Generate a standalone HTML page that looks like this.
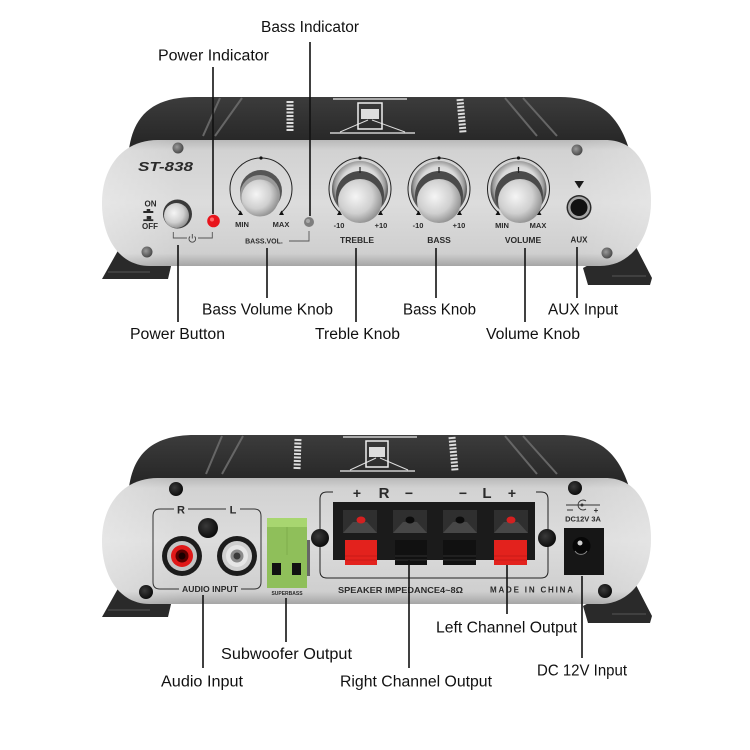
<!DOCTYPE html>
<html><head><meta charset="utf-8">
<style>
html,body{margin:0;padding:0;background:#fff;}
svg{display:block;}
.lb{font-family:"Liberation Sans",sans-serif;font-size:15.5px;fill:#111;}
.pl{font-family:"Liberation Sans",sans-serif;font-weight:bold;fill:#2a2a2a;}
</style></head><body>
<svg width="750" height="750" viewBox="0 0 750 750" xmlns="http://www.w3.org/2000/svg">
<defs>
<linearGradient id="pg" x1="0" y1="0" x2="0" y2="1">
 <stop offset="0" stop-color="#b9b9b9"/>
 <stop offset="0.08" stop-color="#d2d2d2"/>
 <stop offset="0.5" stop-color="#dcdcdc"/>
 <stop offset="0.9" stop-color="#cfcfcf"/>
 <stop offset="1" stop-color="#a5a5a5"/>
</linearGradient>
<linearGradient id="pgh" x1="0" y1="0" x2="1" y2="0">
 <stop offset="0" stop-color="#fff" stop-opacity="0.3"/>
 <stop offset="0.15" stop-color="#fff" stop-opacity="0"/>
 <stop offset="0.85" stop-color="#fff" stop-opacity="0"/>
 <stop offset="1" stop-color="#fff" stop-opacity="0.25"/>
</linearGradient>
<linearGradient id="bg" x1="0" y1="0" x2="0" y2="1">
 <stop offset="0" stop-color="#3c3c3c"/>
 <stop offset="1" stop-color="#1f1f1f"/>
</linearGradient>
<radialGradient id="chrome" cx="0.5" cy="0.45" r="0.5">
 <stop offset="0" stop-color="#fafafa"/>
 <stop offset="0.7" stop-color="#d8d8d8"/>
 <stop offset="0.9" stop-color="#9a9a9a"/>
 <stop offset="1" stop-color="#5a5a5a"/>
</radialGradient>
<radialGradient id="cap" cx="0.4" cy="0.4" r="0.65">
 <stop offset="0" stop-color="#f5f5f5"/>
 <stop offset="0.6" stop-color="#cfcfcf"/>
 <stop offset="1" stop-color="#8c8c8c"/>
</radialGradient>
<radialGradient id="screw" cx="0.4" cy="0.4" r="0.6">
 <stop offset="0" stop-color="#9a9a9a"/>
 <stop offset="1" stop-color="#4a4a4a"/>
</radialGradient>
<radialGradient id="bscrew" cx="0.4" cy="0.4" r="0.6">
 <stop offset="0" stop-color="#3a3a3a"/>
 <stop offset="1" stop-color="#0d0d0d"/>
</radialGradient>
</defs>
<rect width="750" height="750" fill="#fff"/>

<!-- ========== TOP AMP BODY ========== -->
<g>
 <polygon points="120,247 140,247 172,262 168,279 102,279" fill="#2a2a2a"/>
 <line x1="108" y1="272" x2="150" y2="272" stroke="#555" stroke-width="1"/>
 <polygon points="583,268 622,247 636,247 652,278 650,285 588,285" fill="#2a2a2a"/>
 <line x1="612" y1="276" x2="646" y2="276" stroke="#555" stroke-width="1"/>
 <path d="M128,160 C130,118 150,97 195,97 L560,97 C602,97 622,118 632,160 Z" fill="url(#bg)"/>
 <line x1="220" y1="98" x2="203" y2="136" stroke="#666" stroke-width="2"/>
 <line x1="242" y1="98" x2="215" y2="136" stroke="#666" stroke-width="2"/>
 <line x1="505" y1="98" x2="537" y2="136" stroke="#666" stroke-width="2"/>
 <line x1="523" y1="98" x2="557" y2="136" stroke="#666" stroke-width="2"/>
 <line x1="333" y1="99" x2="407" y2="99" stroke="#eee" stroke-width="1.2"/>
 <line x1="330" y1="133" x2="415" y2="133" stroke="#eee" stroke-width="1.2"/>
 <line x1="340" y1="132" x2="368" y2="120" stroke="#ddd" stroke-width="1"/>
 <line x1="405" y1="132" x2="372" y2="120" stroke="#ddd" stroke-width="1"/>
 <rect x="358" y="103" width="24" height="26" fill="none" stroke="#eee" stroke-width="1.5"/>
 <rect x="361" y="109" width="18" height="10" fill="#ddd"/>
 <line x1="290" y1="101" x2="290" y2="132" stroke="#ddd" stroke-width="7" stroke-dasharray="2,1.5"/>
 <line x1="460" y1="99" x2="463" y2="133" stroke="#ddd" stroke-width="7" stroke-dasharray="2,1.5"/>
 <path d="M158,140 L605,140 C638,140 651,170 651,201 C651,236 632,266 600,266 L150,266 C118,266 102,236 102,203 C102,168 122,140 158,140 Z" fill="url(#pg)"/>
 <path d="M158,140 L605,140 C638,140 651,170 651,201 C651,236 632,266 600,266 L150,266 C118,266 102,236 102,203 C102,168 122,140 158,140 Z" fill="url(#pgh)"/>
</g>

<!-- ========== BOTTOM AMP BODY ========== -->
<g transform="translate(0,338)">
 <polygon points="120,247 140,247 172,262 168,279 102,279" fill="#2a2a2a"/>
 <line x1="108" y1="272" x2="150" y2="272" stroke="#555" stroke-width="1"/>
 <polygon points="583,268 622,247 636,247 652,278 650,285 588,285" fill="#2a2a2a"/>
 <line x1="612" y1="276" x2="646" y2="276" stroke="#555" stroke-width="1"/>
 <path d="M128,160 C130,118 150,97 195,97 L560,97 C602,97 622,118 632,160 Z" fill="url(#bg)"/>
 <line x1="222" y1="98" x2="206" y2="136" stroke="#666" stroke-width="2"/>
 <line x1="243" y1="98" x2="222" y2="136" stroke="#666" stroke-width="2"/>
 <line x1="505" y1="98" x2="537" y2="136" stroke="#666" stroke-width="2"/>
 <line x1="523" y1="98" x2="557" y2="136" stroke="#666" stroke-width="2"/>
 <line x1="343" y1="99" x2="417" y2="99" stroke="#eee" stroke-width="1.2"/>
 <line x1="340" y1="133" x2="415" y2="133" stroke="#eee" stroke-width="1.2"/>
 <line x1="350" y1="132" x2="376" y2="120" stroke="#ddd" stroke-width="1"/>
 <line x1="408" y1="132" x2="380" y2="120" stroke="#ddd" stroke-width="1"/>
 <rect x="366" y="103" width="22" height="26" fill="none" stroke="#eee" stroke-width="1.5"/>
 <rect x="369" y="109" width="16" height="10" fill="#ddd"/>
 <line x1="298" y1="101" x2="297" y2="132" stroke="#ddd" stroke-width="7" stroke-dasharray="2,1.5"/>
 <line x1="452" y1="99" x2="455" y2="133" stroke="#ddd" stroke-width="7" stroke-dasharray="2,1.5"/>
 <path d="M158,140 L605,140 C638,140 651,170 651,201 C651,236 632,266 600,266 L150,266 C118,266 102,236 102,203 C102,168 122,140 158,140 Z" fill="url(#pg)"/>
 <path d="M158,140 L605,140 C638,140 651,170 651,201 C651,236 632,266 600,266 L150,266 C118,266 102,236 102,203 C102,168 122,140 158,140 Z" fill="url(#pgh)"/>
</g>

<!-- ========== TOP PANEL DETAILS ========== -->
<circle cx="178" cy="148" r="5.5" fill="url(#screw)"/>
<circle cx="147" cy="252" r="5.5" fill="url(#screw)"/>
<circle cx="577" cy="150" r="5.5" fill="url(#screw)"/>
<circle cx="607" cy="253" r="5.5" fill="url(#screw)"/>
<text x="138" y="171" class="pl" font-style="italic" font-size="13" textLength="55" lengthAdjust="spacingAndGlyphs" fill="#1a1a1a">ST-838</text>

<text x="150.5" y="206.5" class="pl" font-size="8" text-anchor="middle">ON</text>
<rect x="146.7" y="209" width="3.5" height="2" fill="#2a2a2a"/>
<rect x="143.3" y="211" width="10" height="2" fill="#2a2a2a"/>
<rect x="146.7" y="216" width="4.5" height="3.3" fill="#2a2a2a"/>
<rect x="143.3" y="219.3" width="10" height="1.8" fill="#2a2a2a"/>
<text x="150" y="229" class="pl" font-size="8" text-anchor="middle">OFF</text>
<circle cx="177.5" cy="214" r="14.5" fill="#3a3a3a"/>
<circle cx="176.5" cy="215.5" r="12.5" fill="url(#cap)"/>
<circle cx="213.5" cy="221" r="6.3" fill="#e8141c"/>
<circle cx="212" cy="219.5" r="2" fill="#ff6a6a"/>
<path d="M173.3,232 L173.3,238 L187,238 M198,238 L212.3,238 L212.3,232" fill="none" stroke="#555" stroke-width="0.9"/>
<path d="M190,236.5 A3.3,3.3 0 1,0 194.6,236.5" fill="none" stroke="#444" stroke-width="0.9"/>
<line x1="192.3" y1="234" x2="192.3" y2="238.5" stroke="#444" stroke-width="0.9"/>

<!-- Bass vol knob -->
<path d="M240.2,212 A31,31 0 1,1 281.8,212" fill="none" stroke="#222" stroke-width="1"/>
<circle cx="261" cy="158" r="1.6" fill="#111"/>
<polygon points="238,215 243,215 240.5,210.5" fill="#111"/>
<polygon points="279,215 284,215 281.5,210.5" fill="#111"/>
<circle cx="261" cy="191" r="21" fill="#555"/>
<circle cx="260" cy="195" r="20" fill="#9a9a9a"/>
<circle cx="260" cy="198" r="18.5" fill="url(#cap)"/>
<text x="242" y="227" class="pl" font-size="7.5" text-anchor="middle">MIN</text>
<text x="281" y="227" class="pl" font-size="7.5" text-anchor="middle">MAX</text>
<text x="264" y="243.5" class="pl" font-size="7" text-anchor="middle">BASS.VOL.</text>
<path d="M289,241 L309,241 L309,231" fill="none" stroke="#555" stroke-width="0.9"/>
<circle cx="309" cy="222" r="5" fill="#7e7e7e"/>
<circle cx="308" cy="221" r="2" fill="#a8a8a8"/>

<!-- Treble -->
<path d="M339.2,212 A31,31 0 1,1 380.8,212" fill="none" stroke="#222" stroke-width="1"/>
<circle cx="360" cy="158" r="1.6" fill="#111"/>
<polygon points="337,215 342,215 339.5,210.5" fill="#111"/>
<polygon points="378,215 383,215 380.5,210.5" fill="#111"/>
<circle cx="360" cy="189" r="28" fill="url(#chrome)"/>
<circle cx="360" cy="195" r="24" fill="#4a4a4a"/>
<circle cx="360" cy="201" r="22" fill="url(#cap)"/>
<line x1="360" y1="167" x2="360" y2="173" stroke="#222" stroke-width="1.2"/>
<text x="339" y="228" class="pl" font-size="7.5" text-anchor="middle">-10</text>
<text x="381" y="228" class="pl" font-size="7.5" text-anchor="middle">+10</text>
<text x="357" y="243" class="pl" font-size="8.5" text-anchor="middle">TREBLE</text>

<!-- Bass -->
<path d="M418.2,212 A31,31 0 1,1 459.8,212" fill="none" stroke="#222" stroke-width="1"/>
<circle cx="439" cy="158" r="1.6" fill="#111"/>
<polygon points="416,215 421,215 418.5,210.5" fill="#111"/>
<polygon points="457,215 462,215 459.5,210.5" fill="#111"/>
<circle cx="439" cy="189" r="28" fill="url(#chrome)"/>
<circle cx="439" cy="195" r="24" fill="#4a4a4a"/>
<circle cx="439" cy="201" r="22" fill="url(#cap)"/>
<line x1="439" y1="167" x2="439" y2="173" stroke="#222" stroke-width="1.2"/>
<text x="418" y="228" class="pl" font-size="7.5" text-anchor="middle">-10</text>
<text x="459" y="228" class="pl" font-size="7.5" text-anchor="middle">+10</text>
<text x="439" y="243" class="pl" font-size="8.5" text-anchor="middle">BASS</text>

<!-- Volume -->
<path d="M497.7,212 A31,31 0 1,1 539.3,212" fill="none" stroke="#222" stroke-width="1"/>
<circle cx="518.5" cy="158" r="1.6" fill="#111"/>
<polygon points="495.5,215 500.5,215 498,210.5" fill="#111"/>
<polygon points="536.5,215 541.5,215 539,210.5" fill="#111"/>
<circle cx="518.5" cy="189" r="28" fill="url(#chrome)"/>
<circle cx="519" cy="195" r="24" fill="#4a4a4a"/>
<circle cx="520" cy="201" r="22" fill="url(#cap)"/>
<line x1="518.5" y1="167" x2="518.5" y2="173" stroke="#222" stroke-width="1.2"/>
<text x="502" y="228" class="pl" font-size="7.5" text-anchor="middle">MIN</text>
<text x="538" y="228" class="pl" font-size="7.5" text-anchor="middle">MAX</text>
<text x="523" y="243" class="pl" font-size="8.5" text-anchor="middle">VOLUME</text>

<!-- AUX -->
<polygon points="574.5,181 584,181 579.2,188.5" fill="#1a1a1a"/>
<circle cx="579" cy="207.5" r="12.5" fill="#2a2a2a"/>
<circle cx="579" cy="207.5" r="11" fill="#a5a5a5"/>
<circle cx="579" cy="207.5" r="8.5" fill="#111"/>
<text x="579" y="242.5" class="pl" font-size="8" text-anchor="middle">AUX</text>

<!-- ========== BOTTOM PANEL DETAILS ========== -->
<circle cx="176" cy="489" r="7" fill="url(#bscrew)"/>
<circle cx="146" cy="592" r="7" fill="url(#bscrew)"/>
<circle cx="575" cy="488" r="7" fill="url(#bscrew)"/>
<circle cx="605" cy="591" r="7" fill="url(#bscrew)"/>

<!-- Audio input box -->
<path d="M174,509 L160,509 Q153,509 153,516 L153,582 Q153,589 160,589 L179,589 M241,589 L254,589 Q261,589 261,582 L261,516 Q261,509 254,509 L240,509 M188,509 L226,509" fill="none" stroke="#333" stroke-width="1"/>
<text x="181" y="513.5" class="pl" font-size="11" text-anchor="middle">R</text>
<text x="233" y="513.5" class="pl" font-size="11" text-anchor="middle">L</text>
<text x="210" y="592" class="pl" font-size="8.5" text-anchor="middle" textLength="56" lengthAdjust="spacingAndGlyphs" fill="#333">AUDIO INPUT</text>
<circle cx="182" cy="556" r="20" fill="#1c1c1c"/>
<circle cx="182" cy="556" r="15" fill="#c4c4c4"/>
<circle cx="182" cy="556" r="11" fill="#e01818"/>
<circle cx="182" cy="556" r="6.5" fill="#5a0000"/>
<circle cx="182" cy="556" r="3.5" fill="#1a0000"/>
<circle cx="237" cy="556" r="20" fill="#1c1c1c"/>
<circle cx="237" cy="556" r="15" fill="#cfcfcf"/>
<circle cx="237" cy="556" r="11" fill="#e6e6e6"/>
<circle cx="237" cy="556" r="6.5" fill="#8a8a8a"/>
<circle cx="237" cy="556" r="3.5" fill="#3a3a3a"/>
<circle cx="208" cy="528" r="10" fill="url(#bscrew)"/>

<!-- Green terminal -->
<rect x="307" y="540" width="3" height="36" fill="#666"/>
<rect x="267" y="518" width="40" height="70" fill="#8fbf5a"/>
<rect x="267" y="518" width="40" height="9" fill="#a8d670"/>
<line x1="287" y1="527" x2="287" y2="555" stroke="#7fae4c" stroke-width="1"/>
<rect x="272" y="563" width="9" height="12" fill="#111"/>
<rect x="292" y="563" width="9" height="12" fill="#111"/>
<text x="287" y="595" class="pl" font-size="5" text-anchor="middle" fill="#555">SUPERBASS</text>

<!-- Speaker box -->
<path d="M333,492 L327,492 Q320,492 320,499 L320,571 Q320,578 327,578 L541,578 Q548,578 548,571 L548,499 Q548,492 541,492 L536,492" fill="none" stroke="#222" stroke-width="1"/>
<text x="357" y="498" class="pl" font-weight="normal" font-size="14" text-anchor="middle" fill="#222">+</text>
<text x="384" y="498" class="pl" font-weight="normal" font-size="15" text-anchor="middle" fill="#222">R</text>
<text x="409" y="498" class="pl" font-weight="normal" font-size="14" text-anchor="middle" fill="#222">−</text>
<text x="463" y="498" class="pl" font-weight="normal" font-size="14" text-anchor="middle" fill="#222">−</text>
<text x="487" y="498" class="pl" font-weight="normal" font-size="15" text-anchor="middle" fill="#222">L</text>
<text x="512" y="498" class="pl" font-weight="normal" font-size="14" text-anchor="middle" fill="#222">+</text>
<rect x="333" y="502" width="202" height="58" fill="#1b1b1b"/>
<g fill="#2f2f2f">
 <rect x="343" y="510" width="34" height="23"/>
 <rect x="393" y="510" width="34" height="23"/>
 <rect x="443" y="510" width="34" height="23"/>
 <rect x="494" y="510" width="34" height="23"/>
</g>
<g fill="#474747">
 <polygon points="343,533 353,522 367,522 377,533"/>
 <polygon points="393,533 403,522 417,522 427,533"/>
 <polygon points="443,533 453,522 467,522 477,533"/>
 <polygon points="494,533 504,522 518,522 528,533"/>
</g>
<ellipse cx="361" cy="520" rx="4.5" ry="3.5" fill="#d42020"/>
<ellipse cx="410" cy="520" rx="4.5" ry="3.5" fill="#0c0c0c"/>
<ellipse cx="460" cy="520" rx="4.5" ry="3.5" fill="#0c0c0c"/>
<ellipse cx="511" cy="520" rx="4.5" ry="3.5" fill="#d42020"/>
<rect x="345" y="540" width="32" height="25" fill="#e3221d"/>
<rect x="494" y="540" width="33" height="25" fill="#e3221d"/>
<rect x="395" y="540" width="32" height="25" fill="#111"/>
<rect x="443" y="540" width="33" height="25" fill="#111"/>
<g stroke="#2e2e2e" stroke-width="1">
 <line x1="395" y1="556" x2="427" y2="556"/><line x1="395" y1="560" x2="427" y2="560"/>
 <line x1="443" y1="556" x2="476" y2="556"/><line x1="443" y1="560" x2="476" y2="560"/>
</g>
<g stroke="#c81a16" stroke-width="1">
 <line x1="345" y1="556" x2="377" y2="556"/><line x1="345" y1="560" x2="377" y2="560"/>
 <line x1="494" y1="556" x2="527" y2="556"/><line x1="494" y1="560" x2="527" y2="560"/>
</g>
<circle cx="320" cy="538" r="9" fill="url(#bscrew)"/>
<circle cx="547" cy="538" r="9" fill="url(#bscrew)"/>
<text x="338" y="593" class="pl" font-weight="normal" font-size="8.5" textLength="125" lengthAdjust="spacingAndGlyphs" fill="#333">SPEAKER IMPEDANCE4~8Ω</text>
<text x="490" y="592.5" class="pl" font-weight="normal" font-size="8" textLength="83" lengthAdjust="spacing" fill="#333">MADE IN CHINA</text>

<!-- DC -->
<line x1="566" y1="505" x2="600" y2="505" stroke="#333" stroke-width="0.9"/>
<path d="M586,501 A5,5 0 1,0 586,509" fill="none" stroke="#333" stroke-width="0.9"/>
<circle cx="582" cy="505" r="1.5" fill="#333"/>
<line x1="567" y1="510" x2="573" y2="510" stroke="#333" stroke-width="1"/>
<text x="596" y="513" class="pl" font-weight="normal" font-size="8" text-anchor="middle" fill="#333">+</text>
<text x="583" y="521.5" class="pl" font-weight="normal" font-size="7.5" text-anchor="middle" fill="#333">DC12V 3A</text>
<rect x="564" y="528" width="40" height="47" fill="#161616"/>
<circle cx="581.5" cy="546" r="9" fill="#070707"/>
<circle cx="580" cy="543" r="2.5" fill="#cfcfcf"/>
<path d="M575,551 A7,7 0 0,0 587,551" fill="none" stroke="#888" stroke-width="1"/>

<!-- ========== CONNECTOR LINES ========== -->
<g stroke="#111" stroke-width="1.6">
 <line x1="213" y1="67" x2="213" y2="214"/>
 <line x1="310" y1="42" x2="310" y2="216"/>
 <line x1="178" y1="245" x2="178" y2="322"/>
 <line x1="267" y1="248" x2="267" y2="298"/>
 <line x1="356" y1="248" x2="356" y2="322"/>
 <line x1="436" y1="248" x2="436" y2="298"/>
 <line x1="525" y1="248" x2="525" y2="322"/>
 <line x1="577" y1="247" x2="577" y2="298"/>
 <line x1="203" y1="595" x2="203" y2="668"/>
 <line x1="286" y1="598" x2="286" y2="642"/>
 <line x1="409" y1="560" x2="409" y2="668"/>
 <line x1="507" y1="565" x2="507" y2="614"/>
 <line x1="582" y1="576" x2="582" y2="658"/>
</g>

<!-- ========== LABELS ========== -->
<text class="lb" x="261" y="32" textLength="98" lengthAdjust="spacingAndGlyphs">Bass Indicator</text>
<text class="lb" x="158" y="60.5" textLength="111" lengthAdjust="spacingAndGlyphs">Power Indicator</text>
<text class="lb" x="202" y="314.3" textLength="131" lengthAdjust="spacingAndGlyphs">Bass Volume Knob</text>
<text class="lb" x="403" y="314.3" textLength="73" lengthAdjust="spacingAndGlyphs">Bass Knob</text>
<text class="lb" x="548" y="314.3" textLength="70" lengthAdjust="spacingAndGlyphs">AUX Input</text>
<text class="lb" x="130" y="339" textLength="95" lengthAdjust="spacingAndGlyphs">Power Button</text>
<text class="lb" x="315" y="339" textLength="85" lengthAdjust="spacingAndGlyphs">Treble Knob</text>
<text class="lb" x="486" y="339" textLength="94" lengthAdjust="spacingAndGlyphs">Volume Knob</text>
<text class="lb" x="436" y="632.3" textLength="141" lengthAdjust="spacingAndGlyphs">Left Channel Output</text>
<text class="lb" x="221" y="659" textLength="131" lengthAdjust="spacingAndGlyphs">Subwoofer Output</text>
<text class="lb" x="537" y="675.7" textLength="90" lengthAdjust="spacingAndGlyphs">DC 12V Input</text>
<text class="lb" x="161" y="686.7" textLength="82" lengthAdjust="spacingAndGlyphs">Audio Input</text>
<text class="lb" x="340" y="686.7" textLength="152" lengthAdjust="spacingAndGlyphs">Right Channel Output</text>
</svg>
</body></html>
